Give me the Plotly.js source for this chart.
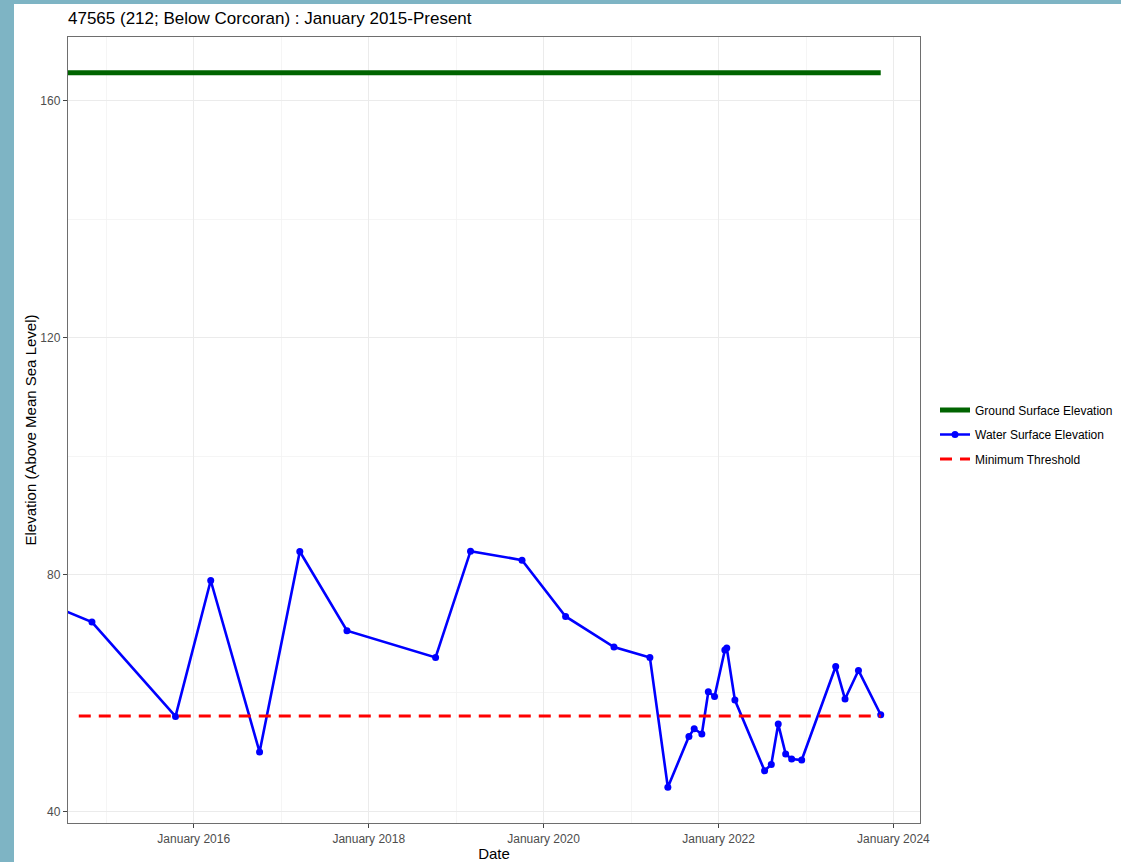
<!DOCTYPE html>
<html>
<head>
<meta charset="utf-8">
<script src="https://cdn.plot.ly/plotly-3.0.1.min.js"></script>
<style>
  html, body { margin: 0; padding: 0; width: 1121px; height: 862px; background: #7eb4c4; overflow: hidden; }
  #chart { position: absolute; left: 14px; top: 4px; width: 1107px; height: 858px; background: #ffffff; }
</style>
</head>
<body>
<div id="chart"></div>
<script>
// ---- data ----
const waterDates = [
  '2014-03-28', '2014-11-02', '2015-10-17', '2016-03-12', '2016-10-02', '2017-03-19',
  '2017-10-02', '2018-10-07', '2019-03-02', '2019-10-03', '2020-04-02', '2020-10-21',
  '2021-03-20', '2021-06-03', '2021-08-30', '2021-09-21', '2021-10-23', '2021-11-19',
  '2021-12-15', '2022-01-27', '2022-02-04', '2022-03-10', '2022-07-12', '2022-08-09',
  '2022-09-07', '2022-10-08', '2022-11-02', '2022-12-14', '2023-05-05', '2023-06-13',
  '2023-08-08', '2023-11-09'
];
const waterValues = [
  75.66, 71.98, 56.04, 79.0, 50.03, 83.9,
  70.51, 66.0, 83.96, 82.44, 72.93, 67.75,
  66.0, 44.06, 52.67, 53.96, 53.07, 60.21,
  59.42, 67.25, 67.6, 58.8, 46.87, 47.94,
  54.75, 49.69, 48.85, 48.68, 64.48, 58.98,
  63.81, 56.33
];
const groundDates = ['2014-03-28', '2023-11-09'];
const groundValues = [164.78, 164.78];
const thresholdDates = ['2014-09-08', '2023-11-09'];
const thresholdValues = [56.1, 56.1];

const xTickVals = ['2016-01-01', '2018-01-01', '2020-01-01', '2022-01-01', '2024-01-01'];
const xTickText = ['January 2016', 'January 2018', 'January 2020', 'January 2022', 'January 2024'];
const xMinorVals = ['2015-01-01', '2017-01-01', '2019-01-01', '2021-01-01', '2023-01-01'];
const yTickVals = [40, 80, 120, 160];
const yMinorVals = [60, 100, 140];

const seriesNames = ['Ground Surface Elevation', 'Water Surface Elevation', 'Minimum Threshold'];
const titleText = '47565 (212; Below Corcoran) : January 2015-Present';

// ---- chart ----
const traces = [
  {
    x: groundDates, y: groundValues, type: 'scatter', mode: 'lines',
    name: seriesNames[0], legendgroup: 'g1',
    line: { color: '#006400', width: 5 }
  },
  {
    x: waterDates, y: waterValues, type: 'scatter', mode: 'lines+markers',
    name: seriesNames[1], legendgroup: 'g2',
    line: { color: '#0000ff', width: 2.6 },
    marker: { color: '#0000ff', size: 7 }
  },
  {
    x: thresholdDates, y: thresholdValues, type: 'scatter', mode: 'lines',
    name: seriesNames[2], legendgroup: 'g3',
    line: { color: '#ff0000', width: 3, dash: '12px,8px' }
  }
];

const axisCommon = {
  showline: true, mirror: true, linecolor: '#6e6e6e', linewidth: 1.2,
  ticks: 'outside', ticklen: 4, tickcolor: '#444', tickwidth: 1,
  tickfont: { family: 'Liberation Sans, Arial, sans-serif', size: 12, color: '#4d4d4d' },
  showgrid: true, gridcolor: '#ebebeb', gridwidth: 1.1,
  zeroline: false, automargin: false
};

const layout = {
  width: 1107, height: 858,
  paper_bgcolor: '#ffffff', plot_bgcolor: '#ffffff',
  margin: { l: 54.3, r: 201, t: 33, b: 38.7, autoexpand: false },
  font: { family: 'Liberation Sans, Arial, sans-serif', color: '#000000' },
  title: {
    text: titleText,
    font: { family: 'Liberation Sans, Arial, sans-serif', size: 17, color: '#000000' },
    xref: 'paper', x: 0, xanchor: 'left',
    yref: 'container', y: 1 - 14.5 / 858, yanchor: 'middle'
  },
  xaxis: Object.assign({}, axisCommon, {
    type: 'date',
    range: ['2014-07-25', '2024-04-21'],
    tickmode: 'array', tickvals: xTickVals, ticktext: xTickText,
    minor: { tickmode: 'array', tickvals: xMinorVals, showgrid: true, gridcolor: '#f2f2f2', gridwidth: 0.8, ticks: '' },
    title: { text: 'Date', font: { size: 15, color: '#000000' }, standoff: 3 }
  }),
  yaxis: Object.assign({}, axisCommon, {
    range: [38.04, 170.8],
    tickmode: 'array', tickvals: yTickVals,
    minor: { tickmode: 'array', tickvals: yMinorVals, showgrid: true, gridcolor: '#f2f2f2', gridwidth: 0.8, ticks: '' },
    title: { text: 'Elevation (Above Mean Sea Level)', font: { size: 15, color: '#000000' }, standoff: 0 }
  }),
  showlegend: true,
  legend: {
    xref: 'container', yref: 'container',
    x: 921 / 1107, xanchor: 'left', y: 1 - 430.5 / 858, yanchor: 'middle',
    font: { family: 'Liberation Sans, Arial, sans-serif', size: 12, color: '#000000' },
    tracegroupgap: 5.5, itemwidth: 30, bgcolor: 'rgba(0,0,0,0)'
  }
};

Plotly.newPlot('chart', traces, layout, { displayModeBar: false, staticPlot: true });
</script>
</body>
</html>
